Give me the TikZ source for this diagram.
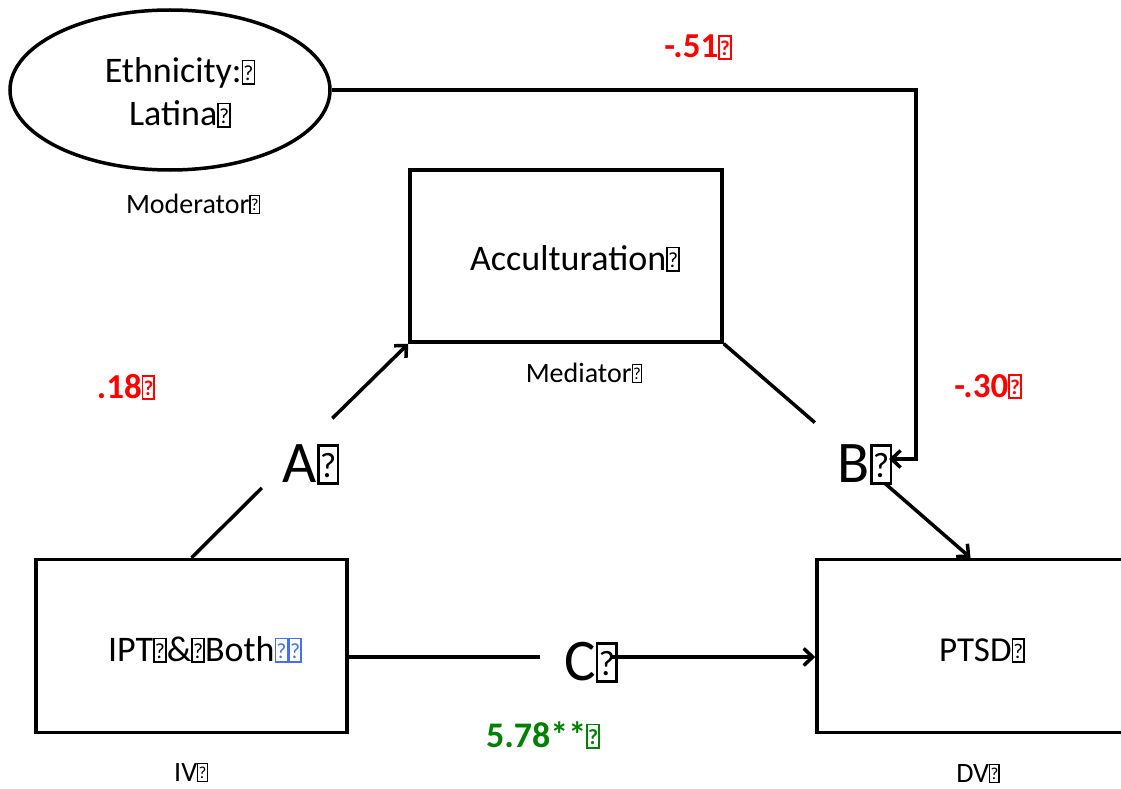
\documentclass[tikz,border=0pt]{standalone}
\usepackage{fontspec}
\setmainfont{Carlito}
\usetikzlibrary{arrows.meta,shapes.geometric}

\definecolor{numred}{RGB}{255,0,0}
\definecolor{numgreen}{RGB}{0,128,0}
\definecolor{markblue}{RGB}{70,112,240}

% small framed question mark, used as the placeholder glyph after each text
\newcommand\qb{{\fboxsep=0pt\fboxrule=0.045em\framebox[0.38em]{\rule{0pt}{0.6em}\raisebox{0.08em}{\scalebox{0.6}{?}}}}}

\begin{document}
\begin{tikzpicture}[x=1pt,y=-1pt,
  line width=3.5pt,
  tip/.style={-{Straight Barb[length=9pt,width=17pt]}},
  varbox/.style={draw,rectangle,inner sep=0pt},
  gap/.style={inner sep=0pt,outer sep=0pt},
  maintext/.style={inner sep=0pt,anchor=base,font=\fontsize{36}{43}\selectfont},
  smalltext/.style={inner sep=0pt,anchor=base,font=\fontsize{28}{34}\selectfont},
  pathtext/.style={inner sep=0pt,anchor=base,font=\fontsize{59}{70}\selectfont},
  coef/.style={inner sep=0pt,anchor=base,font=\bfseries\fontsize{35}{42}\selectfont,text=numred},
]
\clip (0,0) rectangle (1121,789);

% variables
\node[draw,ellipse,inner sep=0pt,minimum width=320,minimum height=160] (eth) at (170,90) {};
\node[maintext] (ethA) at (180,83) {Ethnicity:\qb};
\node[maintext] (ethB) at (180,126) {Latina\qb};
\node[smalltext] (mod) at (193,213) {Moderator\qb};

\node[varbox,minimum width=312,minimum height=172] (acc) at (566,256) {};
\node[maintext] (acctxt) at (575,270) {Acculturation\qb};
\node[smalltext] (med) at (584,382) {Mediator\qb};

\node[varbox,minimum width=311,minimum height=173] (iv) at (191.5,646) {};
\node[maintext] (ivtxt) at (205,661) {IPT\qb\&\qb Both{\color{markblue}\qb\qb}};
\node[smalltext] (ivlbl) at (191,781) {IV\qb};

\node[varbox,minimum width=307,minimum height=173] (dv) at (970.5,646) {};
\node[maintext,font=\fontsize{35}{42}\selectfont] (dvtxt) at (982,661) {PTSD\qb};
\node[smalltext] (dvlbl) at (978,782) {DV\qb};

% path labels and the gaps they leave in the connectors
\node[pathtext] (A) at (311,482) {A\qb};
\node[pathtext] (B) at (865,482) {B\qb};
\node[pathtext] (C) at (591,680) {C\qb};
\node[gap,circle,minimum size=99] (Ag) at (297,453) {};
\node[gap,circle,minimum size=93] (Bg) at (850,453) {};
\node[gap,rectangle,minimum width=70,minimum height=10] (Cg) at (575,657) {};

% connectors
\draw (iv.north) -- (Ag);
\draw[tip] (Ag) -- (acc.south west);
\draw (acc.south east) -- (Bg);
\draw[tip] (Bg) -- (dv.north);
\draw (Cg -| iv.east) -- (Cg);
\draw[tip] (Cg) -- (Cg -| dv.west);
\coordinate (mc) at (916,459);
\draw[tip,shorten >=-5pt] (eth.east) -| (mc) -- (mc -| B.east);

% coefficients
\node[coef] (c51) at (698,58) {-.51\qb};
\node[coef] (c18) at (126,398) {.18\qb};
\node[coef] (c30) at (988,397) {-.30\qb};
\node[coef,font=\bfseries\fontsize{36}{43}\selectfont,text=numgreen] (c578) at (543,747) {5.78**\qb};
\end{tikzpicture}
\end{document}
